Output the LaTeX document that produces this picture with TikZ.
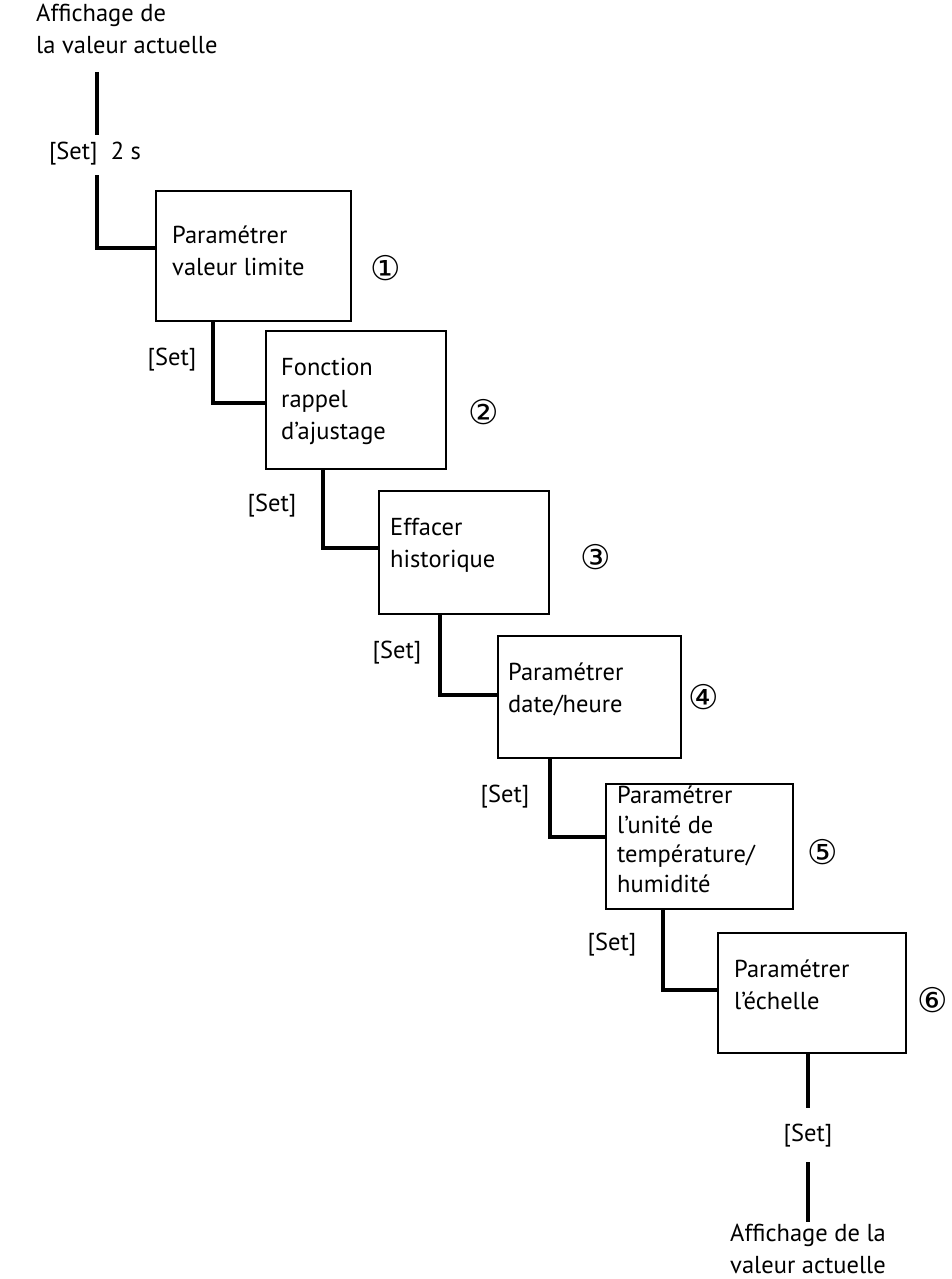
\documentclass[tikz,border=0pt]{standalone}
\usepackage{fontspec}
\setmainfont{PT Sans}
\newfontfamily\circfont{DejaVu Sans}
\begin{document}
\begin{tikzpicture}[x=1pt,y=-1pt,
  box/.style={draw,line width=2.2pt,anchor=north west,inner sep=0pt},
  conn/.style={line width=3.6pt},
  lab/.style={font=\fontsize{24.5}{32}\selectfont,align=left,anchor=north west,inner sep=0pt},
  setl/.style={font=\fontsize{24.5}{28}\selectfont,inner sep=1pt},
  num/.style={font=\circfont\fontsize{34}{34}\selectfont,inner sep=0pt}]
\useasboundingbox (0,0) rectangle (951,1279);
\node[align=left,anchor=north west,inner sep=0pt,font=\fontsize{24.5}{32}\selectfont] (top) at (36,4) {Affichage de\\la valeur actuelle};
% boxes
\node[box,minimum width=195pt,minimum height=130pt] (b1) at (155,190) {};
\node[box,minimum width=180pt,minimum height=138pt] (b2) at (265,330) {};
\node[box,minimum width=170pt,minimum height=123pt] (b3) at (378,490) {};
\node[box,minimum width=183pt,minimum height=122pt] (b4) at (497,635) {};
\node[box,minimum width=187pt,minimum height=125pt] (b5) at (605,783) {};
\node[box,minimum width=188pt,minimum height=120pt] (b6) at (717,932) {};
\node[lab] (t1) at (172,226) {Paramétrer\\valeur limite};
\node[lab] (t2) at (281,358) {Fonction\\rappel\\d'ajustage};
\node[lab] (t3) at (390,518) {Effacer\\historique};
\node[lab] (t4) at (508,663) {Paramétrer\\date/heure};
\node[lab,font=\fontsize{24.5}{29.5}\selectfont] (t5) at (617,786) {Paramétrer\\l'unité de\\température/\\humidité};
\node[lab] (t6) at (734,960) {Paramétrer\\l'échelle};
\node[num] (n1) at (386,268) {①};
\node[num] (n2) at (484,412) {②};
\node[num] (n3) at (596,557) {③};
\node[num] (n4) at (704,697) {④};
\node[num] (n5) at (823,852) {⑤};
\node[num] (n6) at (933,1000) {⑥};
% top connector
\coordinate (s0) at (97,72);
\coordinate (s0b) at (97,135);
\coordinate (s0c) at (97,175);
\coordinate (e0) at (97,248);
\draw[conn] (s0) -- (s0b);
\draw[conn] (s0c) -- (e0) -- (e0 -| b1.west);
\node[setl] (l0) at (95,154) {[Set]\ \ 2 s};
% steps
\draw[conn] (213,320) -- (213,403) -- (265,403);
\node[setl] (l1) at (172,360) {[Set]};
\draw[conn] (323,468) -- (323,548) -- (378,548);
\node[setl] (l2) at (272,506) {[Set]};
\draw[conn] (440,613) -- (440,695) -- (497,695);
\node[setl] (l3) at (397,653) {[Set]};
\draw[conn] (550,757) -- (550,837) -- (605,837);
\node[setl] (l4) at (505,797) {[Set]};
\draw[conn] (663,908) -- (663,990) -- (717,990);
\node[setl] (l5) at (612,945) {[Set]};
\draw[conn] (808,1052) -- (808,1108);
\node[setl] (l6) at (808,1136) {[Set]};
\draw[conn] (808,1162) -- (808,1222);
\node[align=center,inner sep=0pt,font=\fontsize{24.5}{32}\selectfont] (bot) at (808,1249) {Affichage de la\\valeur actuelle};
\end{tikzpicture}
\end{document}
